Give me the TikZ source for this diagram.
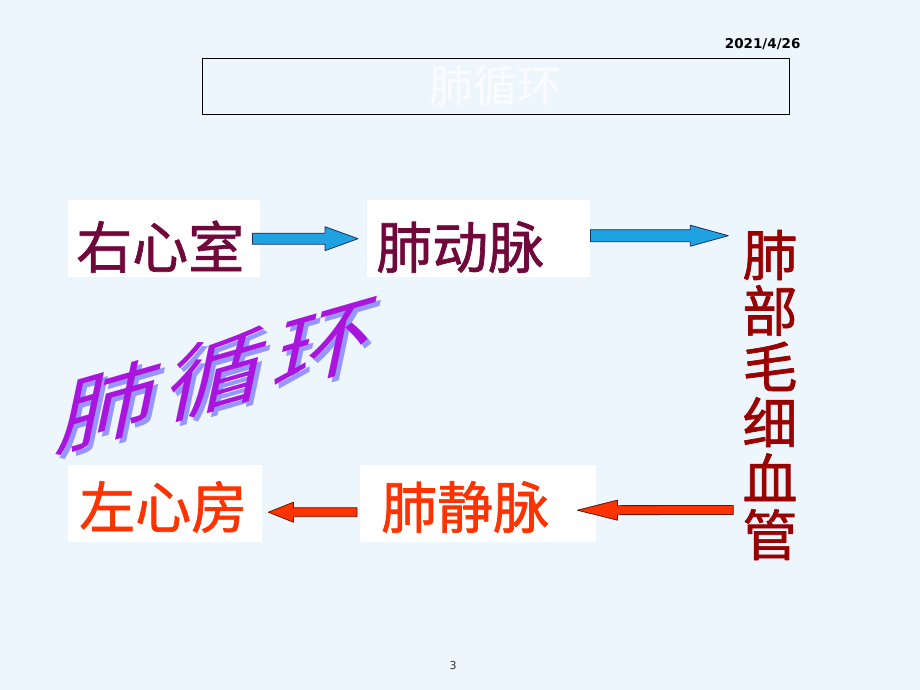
\documentclass[tikz,border=0pt]{standalone}
\usepackage{fontspec}
\usetikzlibrary{calc,positioning}
\newfontfamily\cjk{Noto Sans CJK SC}
\newfontfamily\cjkheavy[FakeBold=1.2]{Noto Sans CJK SC}
\newfontfamily\sans{DejaVu Sans}
\definecolor{bgblue}{RGB}{238,246,253}
\definecolor{darkwine}{RGB}{112,8,60}
\definecolor{capred}{RGB}{153,0,0}
\definecolor{hotred}{RGB}{255,51,0}
\definecolor{arrowblue}{RGB}{30,162,225}
\definecolor{blueedge}{RGB}{25,45,95}
\definecolor{rededge}{RGB}{95,25,5}
\definecolor{wordviolet}{RGB}{170,20,220}
\definecolor{wordshade}{RGB}{150,150,255}
\definecolor{titlewhite}{RGB}{250,252,255}
\newcommand{\blockarrow}[6]{%
  \draw[#1] ($(#2)+(0,#4)$) -- ($(#3)!#6!(#2)+(0,#4)$) -- ($(#3)!#6!(#2)+(0,#5)$) -- (#3)
    -- ($(#3)!#6!(#2)-(0,#5)$) -- ($(#3)!#6!(#2)-(0,#4)$) -- ($(#2)-(0,#4)$) -- cycle;}
\begin{document}
\begin{tikzpicture}[x=1pt, y=-1pt, line join=round,
    organ/.style={fill=white, anchor=north west, align=left, inner ysep=0pt,
      text height=68pt, text depth=9pt, font=\cjkheavy\fontsize{56}{56}\selectfont},
    lower/.style={text height=63pt, text depth=14pt},
    bluearrow/.style={fill=arrowblue, draw=blueedge, line width=0.8pt},
    redarrow/.style={fill=hotred, draw=rededge, line width=0.8pt},
    wordart/.style={inner sep=0pt, font=\cjk\fontsize{90}{90}\selectfont,
      cm={1.105,0.317,0.2,0.95,(0,0)}}]
  \useasboundingbox (0,0) rectangle (920,690);
  \fill[bgblue] (0,0) rectangle (920,690);

  \node[font=\sans\bfseries\fontsize{13.5}{13.5}\selectfont, anchor=east] (date) at (804,44) {2021/4/26};
  \node[draw=black, line width=0.9pt, minimum width=587pt, minimum height=56pt, inner sep=0pt,
    text=titlewhite, font=\cjk\fontsize{44}{44}\selectfont] (title) at (495.5,86) {肺循环};

  \node[organ, text=darkwine, inner xsep=8pt, text width=176pt] (rv) at (68,200) {右心室};
  \node[organ, text=darkwine, inner xsep=9pt, text width=205pt] (pa) at (367,200) {肺动脉};
  \node[organ, lower, text=hotred, inner xsep=11pt, text width=172pt] (la) at (68,465) {左心房};
  \node[organ, lower, text=hotred, inner xsep=21pt, text width=194pt] (pv) at (360,465) {肺静脉};
  \node[inner sep=0pt, align=center, text=capred, font=\cjkheavy\fontsize{55}{56}\selectfont] (cap)
    at (770,395) {肺\\部\\毛\\细\\血\\管};

  \begin{scope}[shift={(222,378)}]
    \node[wordart, text=wordshade] (wordshadow) {肺\hspace{8pt}循\hspace{8pt}环};
  \end{scope}
  \begin{scope}[shift={(218,374)}]
    \node[wordart, text=wordviolet] (word) {肺\hspace{8pt}循\hspace{8pt}环};
  \end{scope}

  \coordinate (b1s) at ($(rv.east)+(-8,0)$);
  \coordinate (b1e) at ($(pa.west)+(-9,0)$);
  \coordinate (b2s) at ($(pa.east)+(0,-3)$);
  \coordinate (capin) at ($(cap.west |- b2s)+(-14,0)$);
  \coordinate (capout) at ($(cap.west)+(-9,115)$);
  \coordinate (r1e) at ($(pv.east)+(-19,6.5)$);
  \coordinate (r2s) at ($(pv.west)+(-3,8.5)$);
  \coordinate (r2e) at ($(la.east)+(6,8.5)$);
  \blockarrow{bluearrow}{b1s}{b1e}{5.5}{12}{33pt}
  \blockarrow{bluearrow}{b2s}{capin}{6}{10.5}{38pt}
  \blockarrow{redarrow}{capout}{r1e}{4.5}{10}{40pt}
  \blockarrow{redarrow}{r2s}{r2e}{4.5}{10}{25pt}

  \node[font=\sans\fontsize{11}{11}\selectfont, text=black!80] (page) at (453,665) {3};
\end{tikzpicture}
\end{document}
